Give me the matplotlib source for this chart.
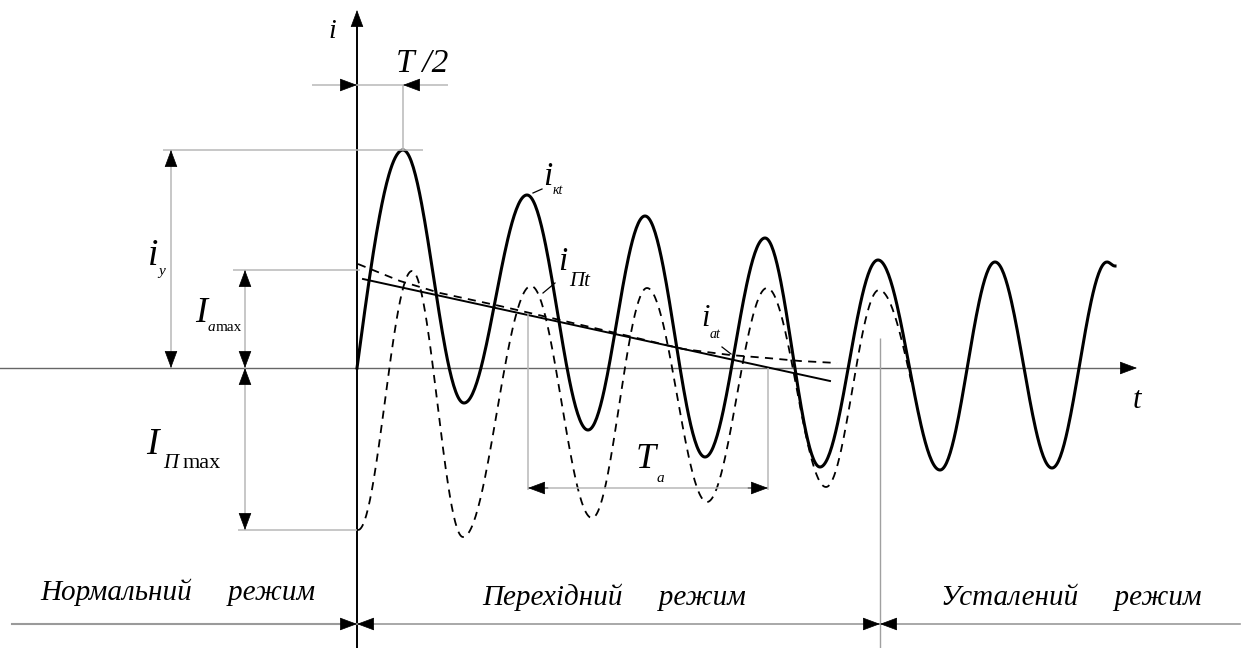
#Short-circuit current transient: normal, transient and steady-state modes
#Units are drawing units: t to the right of the i axis, i above the t axis

import numpy as np
import matplotlib.pyplot as plt

#full short-circuit current i_kt: extrema
ikt_t = [0, 46, 107, 170, 231, 288, 348, 408, 463, 521, 583, 638, 695, 750, 758]
ikt_v = [0, 218, -35, 173, -62, 152, -89, 130, -99, 108, -102, 106, -100, 106, 102]

#periodic component i_Пt (dashed): extrema
ipt_t = [1, 55, 106, 174, 235, 290, 350, 410, 469, 522, 555]
ipt_v = [-162, 97, -169, 82, -150, 80, -134, 80, -119, 78, -17]

#aperiodic component i_at (dashed)
iat_t = [1, 43, 83, 143, 203, 263, 326, 373, 410, 443, 480]
iat_v = [104, 87, 75, 62, 48, 34, 19, 13, 10, 7, 5]

#tangent to i_at (gives T_a)
tan_t = [6, 473]
tan_v = [89, -13]

serif = 'Liberation Serif'
gray = '#b8b8b8'


def wave(ts, vs, steep_start=False, steep_end=False, n=60):
    #smooth half-wave between successive extrema
    tt, vv = [], []
    for k in range(len(ts) - 1):
        s = np.linspace(0, 1, n)
        if k == 0 and steep_start:
            w = np.sin(np.pi / 2 * s)
        elif k == len(ts) - 2 and steep_end:
            w = 1 - np.cos(np.pi / 2 * s)
        else:
            w = (1 - np.cos(np.pi * s)) / 2
        tt.extend(ts[k] + (ts[k + 1] - ts[k]) * s)
        vv.extend(vs[k] + (vs[k + 1] - vs[k]) * w)
    return tt, vv


fig = plt.figure(figsize=(12.48, 6.48), dpi=100)
ax = fig.add_axes([0, 0, 1, 1])
ax.set_xlim(-357, 891)
ax.set_ylim(-280, 368)
ax.axis('off')


def head(x, y, dx, dy, L=15):
    #black filled arrow head with the tip at (x, y) pointing along (dx, dy)
    ax.annotate('', xy=(x, y), xytext=(x - dx * L, y - dy * L),
                arrowprops=dict(arrowstyle='-|>,head_length=0.75,head_width=0.28',
                                color='black', lw=0.5, shrinkA=0, shrinkB=0,
                                mutation_scale=15))


def gline(xs, ys, c=gray, lw=1.1):
    ax.plot(xs, ys, color=c, lw=lw, solid_capstyle='butt')


#axes
ax.plot([-357, 775], [0, 0], color='#666666', lw=1.0)
head(780, 0, 1, 0, 14)
ax.plot([0, 0], [-280, 345], color='black', lw=1.4)
head(0, 358, 0, 1, 16)
ax.text(-25, 336, 'i', family=serif, style='italic', fontsize=20, ha='center', va='center')
ax.text(780, -32, 't', family=serif, style='italic', fontsize=22, ha='center', va='center')

#curves
t, v = wave(ikt_t, ikt_v, steep_start=True)
ax.plot(t, v, color='black', lw=2.2)
t, v = wave(ipt_t, ipt_v, steep_end=True)
ax.plot(t, v, color='black', lw=1.3, dashes=(4.5, 3.5))
ax.plot(iat_t, iat_v, color='black', lw=1.3, dashes=(4.5, 3.5))
ax.plot(tan_t, tan_v, color='black', lw=1.4)

#T/2
gline([-45, 91], [283, 283])
gline([46, 46], [283, 218])
head(0, 283, 1, 0)
head(46, 283, -1, 0)
ax.text(65, 304, 'T /2', family=serif, style='italic', fontsize=24, ha='center', va='center')

#i_y
gline([-194, 66], [218, 218])
gline([-186, -186], [0, 218])
head(-186, 218, 0, 1)
head(-186, 0, 0, -1)
ax.text(-204, 112, 'i', family=serif, style='italic', fontsize=27, ha='center', va='center')
ax.text(-195, 96, 'у', family=serif, style='italic', fontsize=11, ha='center', va='center')

#I_amax
gline([-124, 3], [98, 98])
gline([-112, -112], [0, 98])
head(-112, 98, 0, 1)
head(-112, 0, 0, -1)
ax.text(-156, 54, 'I', family=serif, style='italic', fontsize=26, ha='center', va='center')
ax.text(-149, 37, 'a', family=serif, style='italic', fontsize=11, ha='left', va='baseline')
ax.text(-141, 37, 'max', family=serif, fontsize=11, ha='left', va='baseline')

#I_Пmax
gline([-119, 0], [-162, -162])
gline([-112, -112], [0, -162])
head(-112, 0, 0, 1)
head(-112, -162, 0, -1)
ax.text(-205, -77, 'I', family=serif, style='italic', fontsize=27, ha='center', va='center')
ax.text(-194, -100, 'П', family=serif, style='italic', fontsize=15, ha='left', va='baseline')
ax.text(-174, -100, 'max', family=serif, fontsize=16, ha='left', va='baseline')

#T_a
gline([171, 171], [54, -122])
gline([411, 411], [0, -122])
gline([171, 411], [-120, -120])
head(171, -120, -1, 0, 20)
head(411, -120, 1, 0, 20)
ax.text(289, -91, 'T', family=serif, style='italic', fontsize=26, ha='center', va='center')
ax.text(303, -110, 'a', family=serif, style='italic', fontsize=11, ha='center', va='center')

#curve labels with leaders
ax.plot([176, 185], [175, 179], color='black', lw=0.9)
ax.text(191, 191, 'i', family=serif, style='italic', fontsize=24, ha='center', va='center')
ax.text(201, 177, 'кt', family=serif, style='italic', fontsize=10, ha='center', va='center')
ax.plot([186, 198], [75, 85], color='black', lw=0.9)
ax.text(206, 106, 'i', family=serif, style='italic', fontsize=24, ha='center', va='center')
ax.text(223, 86, 'Пt', family=serif, style='italic', fontsize=15, ha='center', va='center')
ax.plot([365, 374], [21, 14], color='black', lw=0.9)
ax.text(349, 50, 'i', family=serif, style='italic', fontsize=22, ha='center', va='center')
ax.text(358, 34, 'at', family=serif, style='italic', fontsize=10, ha='center', va='center')

#mode boundaries
gline([523, 523], [30, -280], c='#a0a0a0', lw=1.0)
ax.plot([-345, 0], [-256, -256], color='#9a9a9a', lw=1.5)
ax.plot([0, 883], [-256, -256], color='#9a9a9a', lw=1.2)
head(0, -256, 1, 0)
head(0, -256, -1, 0)
head(523, -256, 1, 0)
head(523, -256, -1, 0)
ax.text(-179, -232, 'Нормальний     режим', family=serif, style='italic', fontsize=21,
        ha='center', va='baseline')
ax.text(257, -237, 'Перехідний     режим', family=serif, style='italic', fontsize=21,
        ha='center', va='baseline')
ax.text(714, -237, 'Усталений     режим', family=serif, style='italic', fontsize=21,
        ha='center', va='baseline')

plt.savefig('out.png', dpi=100)
